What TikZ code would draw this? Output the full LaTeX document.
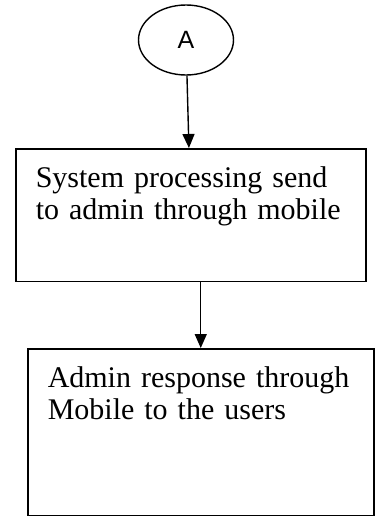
\documentclass[tikz,border=0pt]{standalone}
\usepackage{fontspec}
\setmainfont{Liberation Serif}
\newfontfamily\conlabelfont{Liberation Sans}
\usetikzlibrary{shapes,arrows.meta,positioning,calc}

\begin{document}
\begin{tikzpicture}[x=1pt, y=-1pt,
  procbox/.style={draw, line width=1.5pt, rectangle, anchor=north west, align=left,
    inner xsep=20pt, inner ysep=18pt, font=\fontsize{30}{32}\selectfont},
  flow/.style={-{Triangle[length=14pt,width=12pt]}, line width=1.4pt}]
\useasboundingbox (0,0) rectangle (375,520);

% Off-page connector
\node[draw, ellipse, line width=1.4pt, minimum width=95pt, minimum height=70pt,
  font=\conlabelfont\fontsize{25}{25}\selectfont] (conA) at (186,40) {A};

% Process steps
\node[procbox, text width=310pt, text depth=76pt] (sysproc) at (15,148)
  {System processing send\\to admin through mobile};
\node[procbox, text width=306pt, text depth=110pt] (adminresp) at (27,348)
  {Admin response through\\Mobile to the users};

% Flow
\draw[flow] (conA) -- (sysproc);
\draw[flow] (sysproc.south -| adminresp.north) -- (adminresp.north);

\end{tikzpicture}
\end{document}
